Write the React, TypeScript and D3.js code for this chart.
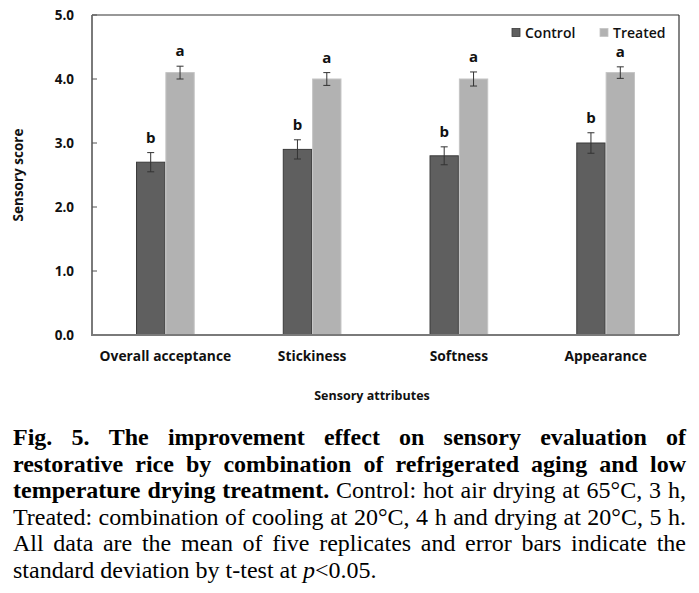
import React from "react";
import * as d3 from "d3";

const categories = ["Overall acceptance", "Stickiness", "Softness", "Appearance"];
const seriesNames = ["Control", "Treated"];
const controlValues = [2.7, 2.9, 2.8, 3.0];
const controlErrors = [0.15, 0.15, 0.14, 0.16];
const treatedValues = [4.1, 4.0, 4.0, 4.1];
const treatedErrors = [0.1, 0.1, 0.11, 0.09];
const controlLetters = ["b", "b", "b", "b"];
const treatedLetters = ["a", "a", "a", "a"];
const yTicks = [0, 1, 2, 3, 4, 5];

type Seg = { t: string; s: "b" | "n" | "i" };
const captionLines: Seg[][] = [
  [{ t: "Fig. 5. The improvement effect on sensory evaluation of", s: "b" }],
  [{ t: "restorative rice by combination of refrigerated aging and low", s: "b" }],
  [
    { t: "temperature drying treatment.", s: "b" },
    { t: " Control: hot air drying at 65°C, 3 h,", s: "n" },
  ],
  [{ t: "Treated: combination of cooling at 20°C, 4 h and drying at 20°C, 5 h.", s: "n" }],
  [{ t: "All data are the mean of five replicates and error bars indicate the", s: "n" }],
  [
    { t: "standard deviation by t-test at ", s: "n" },
    { t: "p", s: "i" },
    { t: "<0.05.", s: "n" },
  ],
];

const W = 699;
const H = 593;
const M = { left: 92, right: 679, top: 15, bottom: 335 };
const CONTROL_FILL = "#5f5f5f";
const CONTROL_STROKE = "#3a3a3a";
const TREATED_FILL = "#b2b2b2";
const TREATED_STROKE = "#c4c4c4";
const SANS = "Open Sans, Noto Sans, sans-serif";
const SERIF_NAME = "Liberation Serif";
const CAP_SIZE = 24;

function fontFor(s: string) {
  if (s === "b") return `bold ${CAP_SIZE}px "${SERIF_NAME}"`;
  if (s === "i") return `italic ${CAP_SIZE}px "${SERIF_NAME}"`;
  return `${CAP_SIZE}px "${SERIF_NAME}"`;
}

let ctx: CanvasRenderingContext2D | null = null;
function measure(text: string, s: string) {
  if (!ctx) ctx = document.createElement("canvas").getContext("2d");
  if (!ctx) return text.length * CAP_SIZE * 0.45;
  ctx.font = fontFor(s);
  return ctx.measureText(text).width;
}

type Piece = { t: string; s: string; x: number; k: number };

function layoutLine(line: Seg[], left: number, right: number, justify: boolean) {
  const words: { t: string; s: string }[][] = [];
  let cur: { t: string; s: string }[] = [];
  line.forEach((seg) => {
    const parts = seg.t.split(" ");
    parts.forEach((p, i) => {
      if (i > 0) {
        if (cur.length) words.push(cur);
        cur = [];
      }
      if (p.length) cur.push({ t: p, s: seg.s });
    });
  });
  if (cur.length) words.push(cur);
  const widthsRaw = words.map((w) => w.reduce((a, p) => a + measure(p.t, p.s), 0));
  const totalRaw = widthsRaw.reduce((a, b) => a + b, 0);
  const minGap = CAP_SIZE * 0.24;
  const avail = right - left;
  let k = 1;
  if (justify && totalRaw + minGap * (words.length - 1) > avail) {
    k = (avail - minGap * (words.length - 1)) / totalRaw;
  }
  const widths = widthsRaw.map((w) => w * k);
  const total = totalRaw * k;
  const gap = justify && words.length > 1 ? (avail - total) / (words.length - 1) : measure(" ", "n");
  const pieces: Piece[] = [];
  let x = left;
  words.forEach((w, i) => {
    let px = x;
    w.forEach((p) => {
      pieces.push({ t: p.t, s: p.s, x: px, k });
      px += measure(p.t, p.s) * k;
    });
    x += widths[i] + gap;
  });
  return pieces;
}

export default function App() {
  const x0 = d3
    .scaleBand<string>()
    .domain(categories)
    .range([M.left, M.right])
    .paddingInner(0.6)
    .paddingOuter(0.3);
  const x1 = d3.scaleBand<string>().domain(seriesNames).range([0, x0.bandwidth()]);
  const y = d3.scaleLinear().domain([0, 5]).range([M.bottom, M.top]);
  const fmt = d3.format(".1f");

  const series = [
    { name: "Control", values: controlValues, errors: controlErrors, letters: controlLetters, fill: CONTROL_FILL, stroke: CONTROL_STROKE },
    { name: "Treated", values: treatedValues, errors: treatedErrors, letters: treatedLetters, fill: TREATED_FILL, stroke: TREATED_STROKE },
  ];

  const capLeft = 13;
  const capRight = 686;
  const baselines = [445, 471.5, 498, 524.5, 551, 577.5];
  const sansStyle = { fontFamily: SANS };
  const serifStyle = { fontFamily: SERIF_NAME };

  return (
    <svg width={W} height={H} style={{ position: "absolute", left: 0, top: 0, background: "#fff" }}>
      <rect x={0} y={0} width={W} height={H} fill="#fff" />
      <line x1={M.left} x2={M.right} y1={M.top} y2={M.top} stroke="#333" strokeWidth={1.2} />
      <line x1={M.right} x2={M.right} y1={M.top} y2={M.bottom} stroke="#333" strokeWidth={1.2} />

      {series.map((s) =>
        categories.map((c, i) => {
          const bx = (x0(c) as number) + (x1(s.name) as number);
          const bw = x1.bandwidth();
          const by = y(s.values[i]);
          const cx = bx + bw / 2;
          const eTop = y(s.values[i] + s.errors[i]);
          const eBot = y(s.values[i] - s.errors[i]);
          return (
            <g key={s.name + c}>
              <rect x={bx + 0.5} y={by} width={bw - 1} height={y(0) - by} fill={s.fill} stroke={s.stroke} strokeWidth={1} />
              <line x1={cx} x2={cx} y1={eTop} y2={eBot} stroke="#333" strokeWidth={1} />
              <line x1={cx - 3.5} x2={cx + 3.5} y1={eTop} y2={eTop} stroke="#333" strokeWidth={1} />
              <line x1={cx - 3.5} x2={cx + 3.5} y1={eBot} y2={eBot} stroke="#333" strokeWidth={1} />
              <text x={cx} y={eTop - 10} textAnchor="middle" style={sansStyle} fontWeight="bold" fontSize={15} fill="#111">
                {s.letters[i]}
              </text>
            </g>
          );
        })
      )}

      <line x1={M.left} x2={M.left} y1={M.top} y2={M.bottom} stroke="#7a7a7a" strokeWidth={2} />
      <line x1={M.left - 1} x2={M.right} y1={M.bottom} y2={M.bottom} stroke="#7a7a7a" strokeWidth={2} />
      {yTicks.map((t) => (
        <g key={t}>
          {t > 0 && <line x1={M.left} x2={M.left + 5} y1={y(t)} y2={y(t)} stroke="#555" strokeWidth={1} />}
          <text x={74} y={y(t)} dy="0.35em" textAnchor="end" style={sansStyle} fontWeight="bold" fontSize={13.5} fill="#111">
            {fmt(t)}
          </text>
        </g>
      ))}
      {categories.map((c) => (
        <text key={c} x={(x0(c) as number) + x0.bandwidth() / 2} y={356} dy="0.35em" textAnchor="middle" style={sansStyle} fontWeight="bold" fontSize={13.8} fill="#111">
          {c}
        </text>
      ))}
      <text x={372} y={396} dy="0.35em" textAnchor="middle" style={sansStyle} fontWeight="bold" fontSize={12.5} fill="#111">
        Sensory attributes
      </text>
      <text transform={`translate(18,${(M.top + M.bottom) / 2}) rotate(-90)`} dy="0.35em" textAnchor="middle" style={sansStyle} fontWeight="bold" fontSize={13.5} fill="#111">
        Sensory score
      </text>

      {series.map((s, i) => {
        const lx = i === 0 ? 512 : 600;
        return (
          <g key={s.name}>
            <rect x={lx} y={28.5} width={8} height={8} fill={s.fill} stroke={s.stroke} strokeWidth={0.8} />
            <text x={lx + 13} y={33} dy="0.35em" style={sansStyle} fontSize={14} fontWeight={600} fill="#111">
              {s.name}
            </text>
          </g>
        );
      })}

      {captionLines.map((line, li) => {
        const pieces = layoutLine(line, capLeft, capRight, li < captionLines.length - 1);
        return (
          <g key={li}>
            {pieces.map((p, pi) => (
              <text
                key={pi}
                transform={`translate(${p.x},${baselines[li]}) scale(${p.k},1)`}
                style={serifStyle}
                fontSize={CAP_SIZE}
                fontWeight={p.s === "b" ? "bold" : "normal"}
                fontStyle={p.s === "i" ? "italic" : "normal"}
                fill="#000"
              >
                {p.t}
              </text>
            ))}
          </g>
        );
      })}
    </svg>
  );
}
